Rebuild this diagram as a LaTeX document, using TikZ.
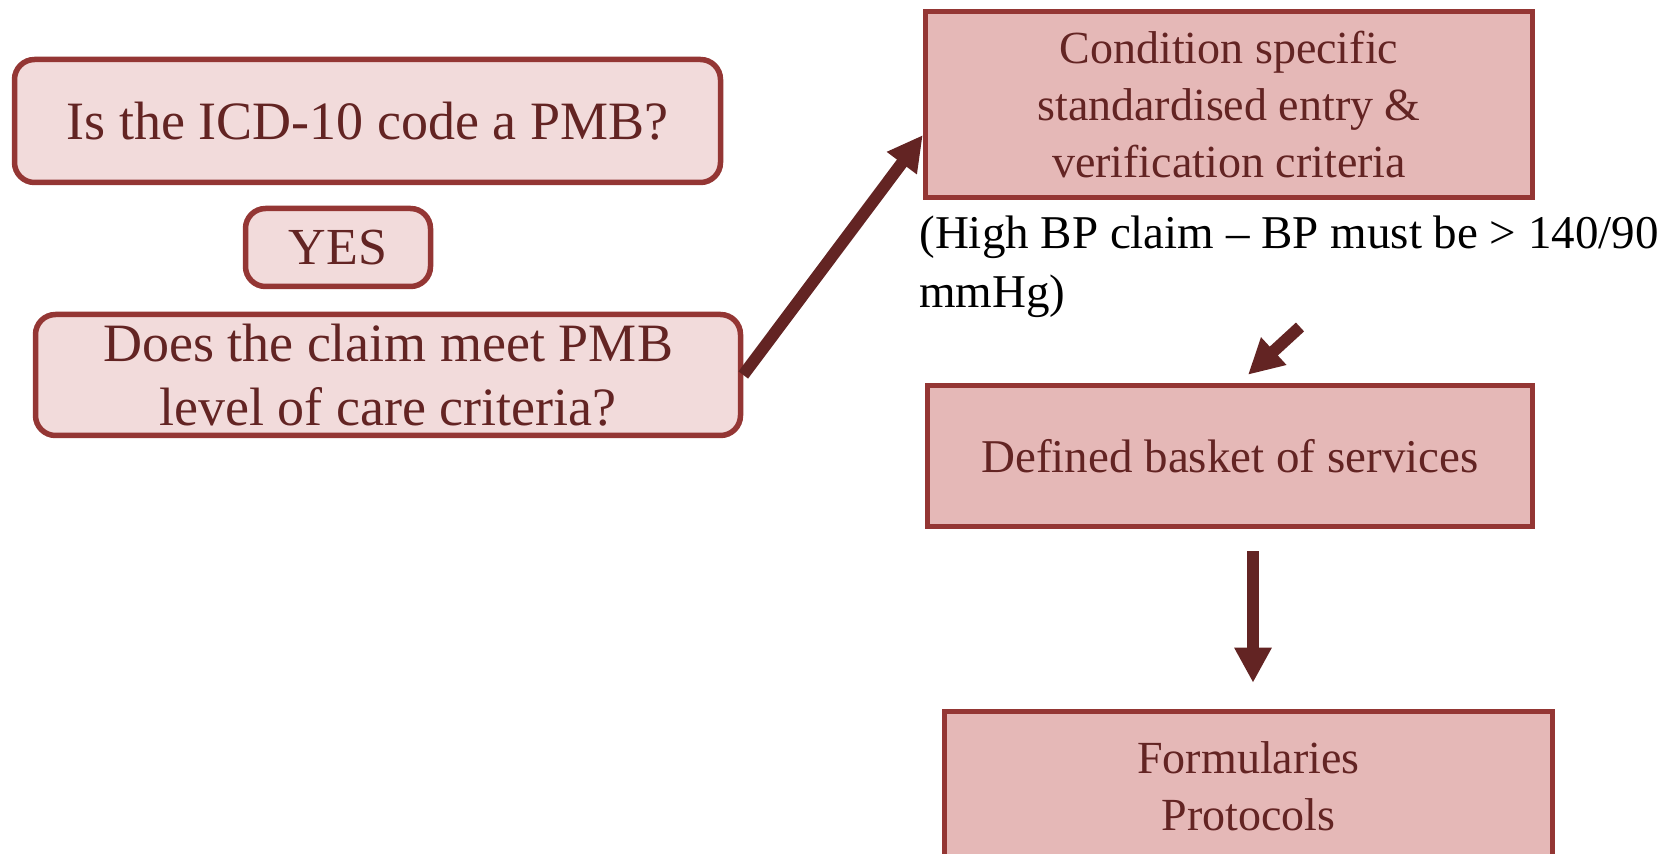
\documentclass[tikz,border=0pt]{standalone}
\usepackage{fontspec}
\setmainfont{Liberation Serif}
\usetikzlibrary{arrows.meta,calc}

\definecolor{boxedge}{HTML}{943634}
\definecolor{palefill}{HTML}{F2DBDB}
\definecolor{deepfill}{HTML}{E5B8B7}
\definecolor{boxtext}{HTML}{632423}
\definecolor{arrowred}{HTML}{632423}

\tikzset{
  roundbox/.style={draw=boxedge, fill=palefill, line width=2.75pt, rounded corners=10pt,
    text=boxtext, align=center, inner sep=0pt},
  flatbox/.style={draw=boxedge, fill=deepfill, line width=2.75pt,
    text=boxtext, align=center, inner sep=0pt},
  flowarrow/.style={draw=arrowred, line width=6pt, -{Triangle[width=17.5pt,length=17.5pt]}}
}

\begin{document}
\begin{tikzpicture}[x=0.5pt,y=-0.5pt]
    \clip (0,0) rectangle (1676,854);
    % left column: questions
    \node[roundbox, minimum width=353pt, minimum height=61.5pt, font=\fontsize{27}{32}\selectfont]
        (icd) at (367.5,121) {Is the ICD-10 code a PMB?};
    \node[roundbox, minimum width=92.5pt, minimum height=39pt, font=\fontsize{26}{30}\selectfont]
        (yes) at (338,247.5) {YES};
    \node[roundbox, minimum width=352.5pt, minimum height=60.5pt, font=\fontsize{27}{32}\selectfont]
        (claim) at (388,375) {Does the claim meet PMB\\level of care criteria?};
    % right column: criteria and services
    \node[flatbox, minimum width=303.5pt, minimum height=93pt, font=\fontsize{23}{28.5}\selectfont]
        (cond) at (1229,104.5) {Condition specific\\standardised entry \&\\verification criteria};
    \node[anchor=north west, inner sep=0pt, align=left, font=\fontsize{23.5}{29.5}\selectfont]
        (bpnote) at (919,215) {(High BP claim -- BP must be > 140/90\\mmHg)};
    \node[flatbox, minimum width=302.5pt, minimum height=70.5pt, font=\fontsize{23.5}{28}\selectfont]
        (basket) at (1230,456) {Defined basket of\ services};
    \node[flatbox, minimum width=304pt, minimum height=74.5pt, font=\fontsize{23}{28.5}\selectfont]
        (form) at (1248.5,786) {Formularies\\Protocols};
    % arrows
    \coordinate (bptail) at (1300,327);
    \draw[flowarrow] (claim.east) -- ($(cond.south west)!0.34!(cond.north west)$);
    \draw[flowarrow] (bptail) -- ([xshift=9pt,yshift=4pt]basket.north);
    \draw[flowarrow] ([xshift=11.5pt,yshift=-11pt]basket.south) -- ([xshift=2.25pt,yshift=13pt]form.north);
\end{tikzpicture}
\end{document}
